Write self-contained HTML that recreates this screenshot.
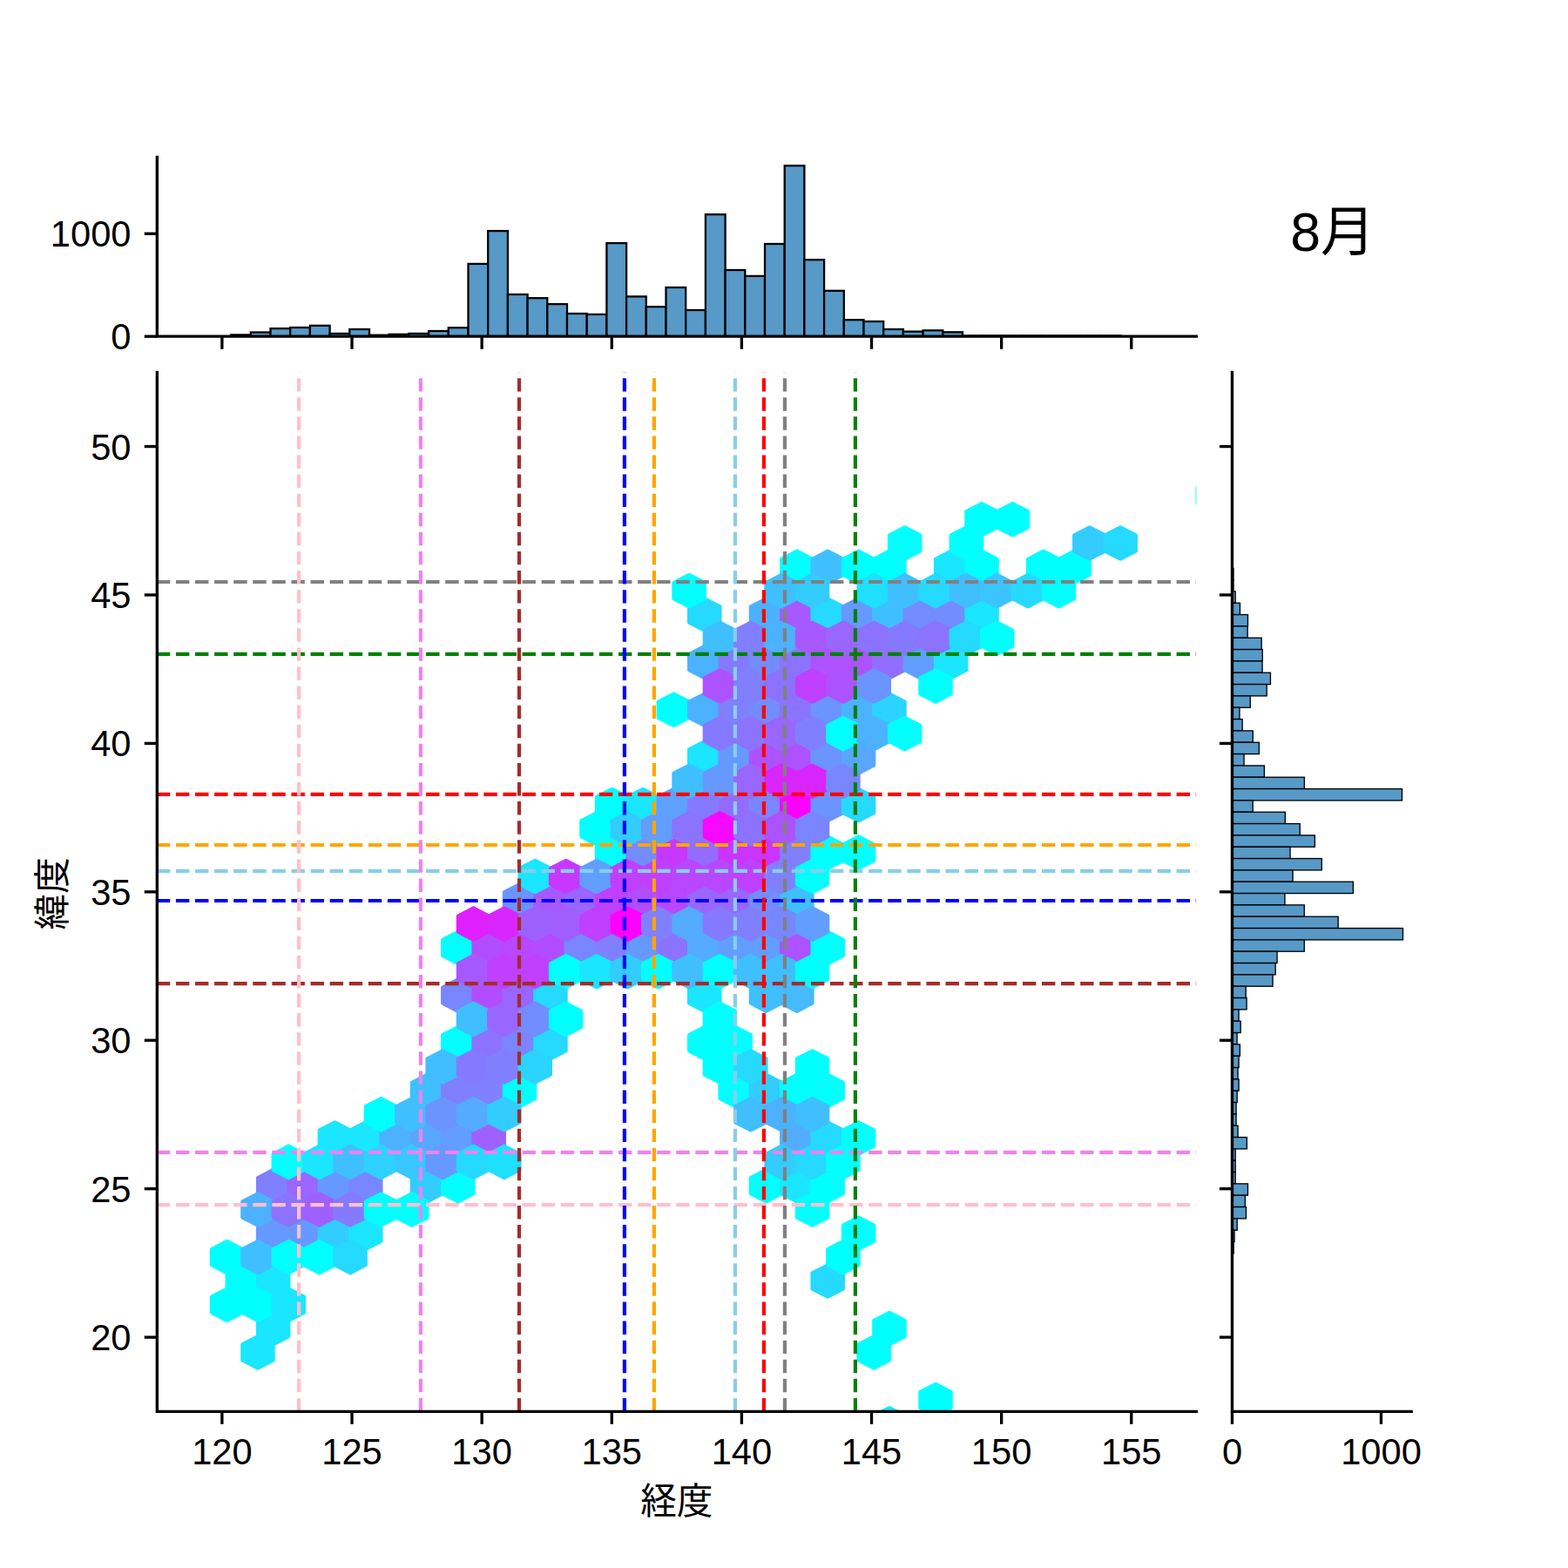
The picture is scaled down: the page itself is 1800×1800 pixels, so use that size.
<!DOCTYPE html>
<html><head><meta charset="utf-8"><title>chart</title><style>html,body{margin:0;padding:0;background:#fff;font-family:"Liberation Sans",sans-serif}svg{display:block}</style></head><body><svg width="1800" height="1800" viewBox="0 0 1800 1800">
<rect width="1800" height="1800" fill="#fff"/>
<defs><clipPath id="cj"><rect x="180.33" y="427.33" width="1193.00" height="1193.00"/></clipPath>
<clipPath id="ct"><rect x="180.33" y="180.50" width="1193.00" height="205.69"/></clipPath>
<clipPath id="cr"><rect x="1414.47" y="427.33" width="205.69" height="1193.00"/></clipPath></defs>
<g clip-path="url(#cj)" stroke-width="4.17" stroke-linejoin="round">
<polygon points="295.97,1479.55 295.97,1461.33 278.29,1452.23 260.61,1461.33 260.61,1479.55 278.29,1488.65" fill="#00ffff" stroke="#00ffff"/>
<polygon points="331.34,1534.19 331.34,1515.97 313.65,1506.87 295.97,1515.97 295.97,1534.19 313.65,1543.29" fill="#1ae6ff" stroke="#1ae6ff"/>
<polygon points="331.34,1479.55 331.34,1461.33 313.65,1452.23 295.97,1461.33 295.97,1479.55 313.65,1488.65" fill="#1ae6ff" stroke="#1ae6ff"/>
<polygon points="331.34,1424.91 331.34,1406.69 313.65,1397.59 295.97,1406.69 295.97,1424.91 313.65,1434.01" fill="#6699ff" stroke="#6699ff"/>
<polygon points="331.34,1370.27 331.34,1352.05 313.65,1342.95 295.97,1352.05 295.97,1370.27 313.65,1379.37" fill="#8080ff" stroke="#8080ff"/>
<polygon points="366.70,1424.91 366.70,1406.69 349.02,1397.59 331.34,1406.69 331.34,1424.91 349.02,1434.01" fill="#6699ff" stroke="#6699ff"/>
<polygon points="366.70,1370.27 366.70,1352.05 349.02,1342.95 331.34,1352.05 331.34,1370.27 349.02,1379.37" fill="#9966ff" stroke="#9966ff"/>
<polygon points="402.07,1424.91 402.07,1406.69 384.38,1397.59 366.70,1406.69 366.70,1424.91 384.38,1434.01" fill="#33ccff" stroke="#33ccff"/>
<polygon points="402.07,1370.27 402.07,1352.05 384.38,1342.95 366.70,1352.05 366.70,1370.27 384.38,1379.37" fill="#6699ff" stroke="#6699ff"/>
<polygon points="402.07,1315.63 402.07,1297.41 384.38,1288.31 366.70,1297.41 366.70,1315.63 384.38,1324.73" fill="#1ae6ff" stroke="#1ae6ff"/>
<polygon points="437.43,1424.91 437.43,1406.69 419.75,1397.59 402.07,1406.69 402.07,1424.91 419.75,1434.01" fill="#1ae6ff" stroke="#1ae6ff"/>
<polygon points="437.43,1370.27 437.43,1352.05 419.75,1342.95 402.07,1352.05 402.07,1370.27 419.75,1379.37" fill="#7887ff" stroke="#7887ff"/>
<polygon points="437.43,1315.63 437.43,1297.41 419.75,1288.31 402.07,1297.41 402.07,1315.63 419.75,1324.73" fill="#1ae6ff" stroke="#1ae6ff"/>
<polygon points="472.80,1315.63 472.80,1297.41 455.11,1288.31 437.43,1297.41 437.43,1315.63 455.11,1324.73" fill="#4cb2ff" stroke="#4cb2ff"/>
<polygon points="508.16,1370.27 508.16,1352.05 490.48,1342.95 472.80,1352.05 472.80,1370.27 490.48,1379.37" fill="#33ccff" stroke="#33ccff"/>
<polygon points="508.16,1315.63 508.16,1297.41 490.48,1288.31 472.80,1297.41 472.80,1315.63 490.48,1324.73" fill="#59a6ff" stroke="#59a6ff"/>
<polygon points="508.16,1260.99 508.16,1242.77 490.48,1233.67 472.80,1242.77 472.80,1260.99 490.48,1270.09" fill="#40bfff" stroke="#40bfff"/>
<polygon points="543.52,1370.27 543.52,1352.05 525.84,1342.95 508.16,1352.05 508.16,1370.27 525.84,1379.37" fill="#00ffff" stroke="#00ffff"/>
<polygon points="543.52,1315.63 543.52,1297.41 525.84,1288.31 508.16,1297.41 508.16,1315.63 525.84,1324.73" fill="#619eff" stroke="#619eff"/>
<polygon points="543.52,1260.99 543.52,1242.77 525.84,1233.67 508.16,1242.77 508.16,1260.99 525.84,1270.09" fill="#8080ff" stroke="#8080ff"/>
<polygon points="543.52,1206.35 543.52,1188.13 525.84,1179.03 508.16,1188.13 508.16,1206.35 525.84,1215.45" fill="#00ffff" stroke="#00ffff"/>
<polygon points="543.52,1151.71 543.52,1133.49 525.84,1124.39 508.16,1133.49 508.16,1151.71 525.84,1160.81" fill="#7887ff" stroke="#7887ff"/>
<polygon points="543.52,1097.07 543.52,1078.85 525.84,1069.75 508.16,1078.85 508.16,1097.07 525.84,1106.17" fill="#00ffff" stroke="#00ffff"/>
<polygon points="578.89,1315.63 578.89,1297.41 561.21,1288.31 543.53,1297.41 543.53,1315.63 561.21,1324.73" fill="#9e61ff" stroke="#9e61ff"/>
<polygon points="578.89,1260.99 578.89,1242.77 561.21,1233.67 543.53,1242.77 543.53,1260.99 561.21,1270.09" fill="#8080ff" stroke="#8080ff"/>
<polygon points="578.89,1206.35 578.89,1188.13 561.21,1179.03 543.53,1188.13 543.53,1206.35 561.21,1215.45" fill="#8c73ff" stroke="#8c73ff"/>
<polygon points="578.89,1151.71 578.89,1133.49 561.21,1124.39 543.53,1133.49 543.53,1151.71 561.21,1160.81" fill="#b24dff" stroke="#b24dff"/>
<polygon points="578.89,1097.07 578.89,1078.85 561.21,1069.75 543.53,1078.85 543.53,1097.07 561.21,1106.17" fill="#b24dff" stroke="#b24dff"/>
<polygon points="614.26,1260.99 614.26,1242.77 596.57,1233.67 578.89,1242.77 578.89,1260.99 596.57,1270.09" fill="#00ffff" stroke="#00ffff"/>
<polygon points="614.26,1206.35 614.26,1188.13 596.57,1179.03 578.89,1188.13 578.89,1206.35 596.57,1215.45" fill="#7a85ff" stroke="#7a85ff"/>
<polygon points="614.26,1151.71 614.26,1133.49 596.57,1124.39 578.89,1133.49 578.89,1151.71 596.57,1160.81" fill="#9966ff" stroke="#9966ff"/>
<polygon points="614.26,1097.07 614.26,1078.85 596.57,1069.75 578.89,1078.85 578.89,1097.07 596.57,1106.17" fill="#b847ff" stroke="#b847ff"/>
<polygon points="614.26,1042.43 614.26,1024.21 596.57,1015.11 578.89,1024.21 578.89,1042.43 596.57,1051.53" fill="#6b94ff" stroke="#6b94ff"/>
<polygon points="649.62,1206.35 649.62,1188.13 631.94,1179.03 614.26,1188.13 614.26,1206.35 631.94,1215.45" fill="#26d9ff" stroke="#26d9ff"/>
<polygon points="649.62,1151.71 649.62,1133.49 631.94,1124.39 614.26,1133.49 614.26,1151.71 631.94,1160.81" fill="#26d9ff" stroke="#26d9ff"/>
<polygon points="649.62,1097.07 649.62,1078.85 631.94,1069.75 614.26,1078.85 614.26,1097.07 631.94,1106.17" fill="#b24dff" stroke="#b24dff"/>
<polygon points="649.62,1042.43 649.62,1024.21 631.94,1015.11 614.26,1024.21 614.26,1042.43 631.94,1051.53" fill="#a659ff" stroke="#a659ff"/>
<polygon points="684.99,1097.07 684.99,1078.85 667.30,1069.75 649.62,1078.85 649.62,1097.07 667.30,1106.17" fill="#7887ff" stroke="#7887ff"/>
<polygon points="684.99,1042.43 684.99,1024.21 667.30,1015.11 649.62,1024.21 649.62,1042.43 667.30,1051.53" fill="#9966ff" stroke="#9966ff"/>
<polygon points="720.35,1097.07 720.35,1078.85 702.67,1069.75 684.99,1078.85 684.99,1097.07 702.67,1106.17" fill="#8080ff" stroke="#8080ff"/>
<polygon points="720.35,1042.43 720.35,1024.21 702.67,1015.11 684.99,1024.21 684.99,1042.43 702.67,1051.53" fill="#bf40ff" stroke="#bf40ff"/>
<polygon points="720.35,987.79 720.35,969.57 702.67,960.47 684.99,969.57 684.99,987.79 702.67,996.89" fill="#00ffff" stroke="#00ffff"/>
<polygon points="720.35,933.15 720.35,914.93 702.67,905.83 684.99,914.93 684.99,933.15 702.67,942.25" fill="#00ffff" stroke="#00ffff"/>
<polygon points="755.72,1097.07 755.72,1078.85 738.03,1069.75 720.35,1078.85 720.35,1097.07 738.03,1106.17" fill="#6699ff" stroke="#6699ff"/>
<polygon points="755.72,1042.43 755.72,1024.21 738.03,1015.11 720.35,1024.21 720.35,1042.43 738.03,1051.53" fill="#b24dff" stroke="#b24dff"/>
<polygon points="755.72,987.79 755.72,969.57 738.03,960.47 720.35,969.57 720.35,987.79 738.03,996.89" fill="#738cff" stroke="#738cff"/>
<polygon points="755.72,933.15 755.72,914.93 738.03,905.83 720.35,914.93 720.35,933.15 738.03,942.25" fill="#1ae6ff" stroke="#1ae6ff"/>
<polygon points="791.08,1097.07 791.08,1078.85 773.40,1069.75 755.72,1078.85 755.72,1097.07 773.40,1106.17" fill="#8c73ff" stroke="#8c73ff"/>
<polygon points="791.08,1042.43 791.08,1024.21 773.40,1015.11 755.72,1024.21 755.72,1042.43 773.40,1051.53" fill="#b847ff" stroke="#b847ff"/>
<polygon points="791.08,987.79 791.08,969.57 773.40,960.47 755.72,969.57 755.72,987.79 773.40,996.89" fill="#c738ff" stroke="#c738ff"/>
<polygon points="791.08,933.15 791.08,914.93 773.40,905.83 755.72,914.93 755.72,933.15 773.40,942.25" fill="#5ea1ff" stroke="#5ea1ff"/>
<polygon points="791.08,823.87 791.08,805.65 773.40,796.55 755.72,805.65 755.72,823.87 773.40,832.97" fill="#00ffff" stroke="#00ffff"/>
<polygon points="826.45,1206.35 826.45,1188.13 808.76,1179.03 791.08,1188.13 791.08,1206.35 808.76,1215.45" fill="#00ffff" stroke="#00ffff"/>
<polygon points="826.45,1151.71 826.45,1133.49 808.76,1124.39 791.08,1133.49 791.08,1151.71 808.76,1160.81" fill="#1ae6ff" stroke="#1ae6ff"/>
<polygon points="826.45,1097.07 826.45,1078.85 808.76,1069.75 791.08,1078.85 791.08,1097.07 808.76,1106.17" fill="#54abff" stroke="#54abff"/>
<polygon points="826.45,1042.43 826.45,1024.21 808.76,1015.11 791.08,1024.21 791.08,1042.43 808.76,1051.53" fill="#9966ff" stroke="#9966ff"/>
<polygon points="826.45,987.79 826.45,969.57 808.76,960.47 791.08,969.57 791.08,987.79 808.76,996.89" fill="#946bff" stroke="#946bff"/>
<polygon points="826.45,933.15 826.45,914.93 808.76,905.83 791.08,914.93 791.08,933.15 808.76,942.25" fill="#857aff" stroke="#857aff"/>
<polygon points="826.45,878.51 826.45,860.29 808.76,851.19 791.08,860.29 791.08,878.51 808.76,887.61" fill="#1ae6ff" stroke="#1ae6ff"/>
<polygon points="826.45,823.87 826.45,805.65 808.76,796.55 791.08,805.65 791.08,823.87 808.76,832.97" fill="#4cb2ff" stroke="#4cb2ff"/>
<polygon points="826.45,769.23 826.45,751.01 808.76,741.91 791.08,751.01 791.08,769.23 808.76,778.33" fill="#4cb2ff" stroke="#4cb2ff"/>
<polygon points="826.45,714.59 826.45,696.37 808.76,687.27 791.08,696.37 791.08,714.59 808.76,723.69" fill="#26d9ff" stroke="#26d9ff"/>
<polygon points="861.81,1260.99 861.81,1242.77 844.13,1233.67 826.45,1242.77 826.45,1260.99 844.13,1270.09" fill="#00ffff" stroke="#00ffff"/>
<polygon points="861.81,1206.35 861.81,1188.13 844.13,1179.03 826.45,1188.13 826.45,1206.35 844.13,1215.45" fill="#00ffff" stroke="#00ffff"/>
<polygon points="861.81,1097.07 861.81,1078.85 844.13,1069.75 826.45,1078.85 826.45,1097.07 844.13,1106.17" fill="#619eff" stroke="#619eff"/>
<polygon points="861.81,1042.43 861.81,1024.21 844.13,1015.11 826.45,1024.21 826.45,1042.43 844.13,1051.53" fill="#9966ff" stroke="#9966ff"/>
<polygon points="861.81,987.79 861.81,969.57 844.13,960.47 826.45,969.57 826.45,987.79 844.13,996.89" fill="#cc33ff" stroke="#cc33ff"/>
<polygon points="861.81,933.15 861.81,914.93 844.13,905.83 826.45,914.93 826.45,933.15 844.13,942.25" fill="#946bff" stroke="#946bff"/>
<polygon points="861.81,878.51 861.81,860.29 844.13,851.19 826.45,860.29 826.45,878.51 844.13,887.61" fill="#6699ff" stroke="#6699ff"/>
<polygon points="861.81,823.87 861.81,805.65 844.13,796.55 826.45,805.65 826.45,823.87 844.13,832.97" fill="#8080ff" stroke="#8080ff"/>
<polygon points="861.81,769.23 861.81,751.01 844.13,741.91 826.45,751.01 826.45,769.23 844.13,778.33" fill="#857aff" stroke="#857aff"/>
<polygon points="897.18,1370.27 897.18,1352.05 879.49,1342.95 861.81,1352.05 861.81,1370.27 879.49,1379.37" fill="#00ffff" stroke="#00ffff"/>
<polygon points="897.18,1260.99 897.18,1242.77 879.49,1233.67 861.81,1242.77 861.81,1260.99 879.49,1270.09" fill="#33ccff" stroke="#33ccff"/>
<polygon points="897.18,1151.71 897.18,1133.49 879.49,1124.39 861.81,1133.49 861.81,1151.71 879.49,1160.81" fill="#40bfff" stroke="#40bfff"/>
<polygon points="897.18,1097.07 897.18,1078.85 879.49,1069.75 861.81,1078.85 861.81,1097.07 879.49,1106.17" fill="#619eff" stroke="#619eff"/>
<polygon points="897.18,1042.43 897.18,1024.21 879.49,1015.11 861.81,1024.21 861.81,1042.43 879.49,1051.53" fill="#738cff" stroke="#738cff"/>
<polygon points="897.18,987.79 897.18,969.57 879.49,960.47 861.81,969.57 861.81,987.79 879.49,996.89" fill="#cc33ff" stroke="#cc33ff"/>
<polygon points="897.18,933.15 897.18,914.93 879.49,905.83 861.81,914.93 861.81,933.15 879.49,942.25" fill="#7a85ff" stroke="#7a85ff"/>
<polygon points="897.18,878.51 897.18,860.29 879.49,851.19 861.81,860.29 861.81,878.51 879.49,887.61" fill="#ad52ff" stroke="#ad52ff"/>
<polygon points="897.18,823.87 897.18,805.65 879.49,796.55 861.81,805.65 861.81,823.87 879.49,832.97" fill="#738cff" stroke="#738cff"/>
<polygon points="897.18,769.23 897.18,751.01 879.49,741.91 861.81,751.01 861.81,769.23 879.49,778.33" fill="#738cff" stroke="#738cff"/>
<polygon points="897.18,714.59 897.18,696.37 879.49,687.27 861.81,696.37 861.81,714.59 879.49,723.69" fill="#4cb2ff" stroke="#4cb2ff"/>
<polygon points="932.54,1370.27 932.54,1352.05 914.86,1342.95 897.18,1352.05 897.18,1370.27 914.86,1379.37" fill="#1ae6ff" stroke="#1ae6ff"/>
<polygon points="932.54,1315.63 932.54,1297.41 914.86,1288.31 897.18,1297.41 897.18,1315.63 914.86,1324.73" fill="#52adff" stroke="#52adff"/>
<polygon points="932.54,1260.99 932.54,1242.77 914.86,1233.67 897.18,1242.77 897.18,1260.99 914.86,1270.09" fill="#00ffff" stroke="#00ffff"/>
<polygon points="932.54,1151.71 932.54,1133.49 914.86,1124.39 897.18,1133.49 897.18,1151.71 914.86,1160.81" fill="#45baff" stroke="#45baff"/>
<polygon points="932.54,1097.07 932.54,1078.85 914.86,1069.75 897.18,1078.85 897.18,1097.07 914.86,1106.17" fill="#ad52ff" stroke="#ad52ff"/>
<polygon points="932.54,1042.43 932.54,1024.21 914.86,1015.11 897.18,1024.21 897.18,1042.43 914.86,1051.53" fill="#40bfff" stroke="#40bfff"/>
<polygon points="932.54,987.79 932.54,969.57 914.86,960.47 897.18,969.57 897.18,987.79 914.86,996.89" fill="#8080ff" stroke="#8080ff"/>
<polygon points="932.54,933.15 932.54,914.93 914.86,905.83 897.18,914.93 897.18,933.15 914.86,942.25" fill="#ff00ff" stroke="#ff00ff"/>
<polygon points="932.54,878.51 932.54,860.29 914.86,851.19 897.18,860.29 897.18,878.51 914.86,887.61" fill="#ad52ff" stroke="#ad52ff"/>
<polygon points="932.54,823.87 932.54,805.65 914.86,796.55 897.18,805.65 897.18,823.87 914.86,832.97" fill="#8c73ff" stroke="#8c73ff"/>
<polygon points="932.54,769.23 932.54,751.01 914.86,741.91 897.18,751.01 897.18,769.23 914.86,778.33" fill="#8c73ff" stroke="#8c73ff"/>
<polygon points="932.54,714.59 932.54,696.37 914.86,687.27 897.18,696.37 897.18,714.59 914.86,723.69" fill="#a659ff" stroke="#a659ff"/>
<polygon points="932.54,659.95 932.54,641.73 914.86,632.63 897.18,641.73 897.18,659.95 914.86,669.05" fill="#00ffff" stroke="#00ffff"/>
<polygon points="967.91,1479.55 967.91,1461.33 950.22,1452.23 932.54,1461.33 932.54,1479.55 950.22,1488.65" fill="#26d9ff" stroke="#26d9ff"/>
<polygon points="967.91,1370.27 967.91,1352.05 950.22,1342.95 932.54,1352.05 932.54,1370.27 950.22,1379.37" fill="#00ffff" stroke="#00ffff"/>
<polygon points="967.91,1315.63 967.91,1297.41 950.22,1288.31 932.54,1297.41 932.54,1315.63 950.22,1324.73" fill="#26d9ff" stroke="#26d9ff"/>
<polygon points="967.91,1260.99 967.91,1242.77 950.22,1233.67 932.54,1242.77 932.54,1260.99 950.22,1270.09" fill="#00ffff" stroke="#00ffff"/>
<polygon points="967.91,1097.07 967.91,1078.85 950.22,1069.75 932.54,1078.85 932.54,1097.07 950.22,1106.17" fill="#00ffff" stroke="#00ffff"/>
<polygon points="967.91,987.79 967.91,969.57 950.22,960.47 932.54,969.57 932.54,987.79 950.22,996.89" fill="#00ffff" stroke="#00ffff"/>
<polygon points="967.91,933.15 967.91,914.93 950.22,905.83 932.54,914.93 932.54,933.15 950.22,942.25" fill="#6b94ff" stroke="#6b94ff"/>
<polygon points="967.91,878.51 967.91,860.29 950.22,851.19 932.54,860.29 932.54,878.51 950.22,887.61" fill="#6b94ff" stroke="#6b94ff"/>
<polygon points="967.91,823.87 967.91,805.65 950.22,796.55 932.54,805.65 932.54,823.87 950.22,832.97" fill="#6b94ff" stroke="#6b94ff"/>
<polygon points="967.91,769.23 967.91,751.01 950.22,741.91 932.54,751.01 932.54,769.23 950.22,778.33" fill="#ad52ff" stroke="#ad52ff"/>
<polygon points="967.91,714.59 967.91,696.37 950.22,687.27 932.54,696.37 932.54,714.59 950.22,723.69" fill="#26d9ff" stroke="#26d9ff"/>
<polygon points="967.91,659.95 967.91,641.73 950.22,632.63 932.54,641.73 932.54,659.95 950.22,669.05" fill="#40bfff" stroke="#40bfff"/>
<polygon points="1003.27,1424.91 1003.27,1406.69 985.59,1397.59 967.91,1406.69 967.91,1424.91 985.59,1434.01" fill="#00ffff" stroke="#00ffff"/>
<polygon points="1003.27,1315.63 1003.27,1297.41 985.59,1288.31 967.91,1297.41 967.91,1315.63 985.59,1324.73" fill="#00ffff" stroke="#00ffff"/>
<polygon points="1003.27,987.79 1003.27,969.57 985.59,960.47 967.91,969.57 967.91,987.79 985.59,996.89" fill="#00ffff" stroke="#00ffff"/>
<polygon points="1003.27,933.15 1003.27,914.93 985.59,905.83 967.91,914.93 967.91,933.15 985.59,942.25" fill="#26d9ff" stroke="#26d9ff"/>
<polygon points="1003.27,878.51 1003.27,860.29 985.59,851.19 967.91,860.29 967.91,878.51 985.59,887.61" fill="#59a6ff" stroke="#59a6ff"/>
<polygon points="1003.27,823.87 1003.27,805.65 985.59,796.55 967.91,805.65 967.91,823.87 985.59,832.97" fill="#4cb2ff" stroke="#4cb2ff"/>
<polygon points="1003.27,769.23 1003.27,751.01 985.59,741.91 967.91,751.01 967.91,769.23 985.59,778.33" fill="#ad52ff" stroke="#ad52ff"/>
<polygon points="1003.27,714.59 1003.27,696.37 985.59,687.27 967.91,696.37 967.91,714.59 985.59,723.69" fill="#6699ff" stroke="#6699ff"/>
<polygon points="1003.27,659.95 1003.27,641.73 985.59,632.63 967.91,641.73 967.91,659.95 985.59,669.05" fill="#00ffff" stroke="#00ffff"/>
<polygon points="1038.63,1643.47 1038.63,1625.25 1020.95,1616.15 1003.27,1625.25 1003.27,1643.47 1020.95,1652.57" fill="#1ae6ff" stroke="#1ae6ff"/>
<polygon points="1038.63,1534.19 1038.63,1515.97 1020.95,1506.87 1003.27,1515.97 1003.27,1534.19 1020.95,1543.29" fill="#00ffff" stroke="#00ffff"/>
<polygon points="1038.63,823.87 1038.63,805.65 1020.95,796.55 1003.27,805.65 1003.27,823.87 1020.95,832.97" fill="#2bd4ff" stroke="#2bd4ff"/>
<polygon points="1038.63,769.23 1038.63,751.01 1020.95,741.91 1003.27,751.01 1003.27,769.23 1020.95,778.33" fill="#916eff" stroke="#916eff"/>
<polygon points="1038.63,714.59 1038.63,696.37 1020.95,687.27 1003.27,696.37 1003.27,714.59 1020.95,723.69" fill="#40bfff" stroke="#40bfff"/>
<polygon points="1038.63,659.95 1038.63,641.73 1020.95,632.63 1003.27,641.73 1003.27,659.95 1020.95,669.05" fill="#00ffff" stroke="#00ffff"/>
<polygon points="1074.00,769.23 1074.00,751.01 1056.32,741.91 1038.64,751.01 1038.64,769.23 1056.32,778.33" fill="#619eff" stroke="#619eff"/>
<polygon points="1074.00,714.59 1074.00,696.37 1056.32,687.27 1038.64,696.37 1038.64,714.59 1056.32,723.69" fill="#738cff" stroke="#738cff"/>
<polygon points="1109.36,769.23 1109.36,751.01 1091.68,741.91 1074.00,751.01 1074.00,769.23 1091.68,778.33" fill="#1ae6ff" stroke="#1ae6ff"/>
<polygon points="1109.36,714.59 1109.36,696.37 1091.68,687.27 1074.00,696.37 1074.00,714.59 1091.68,723.69" fill="#738cff" stroke="#738cff"/>
<polygon points="1109.36,659.95 1109.36,641.73 1091.68,632.63 1074.00,641.73 1074.00,659.95 1091.68,669.05" fill="#1ae6ff" stroke="#1ae6ff"/>
<polygon points="1144.73,714.59 1144.73,696.37 1127.05,687.27 1109.37,696.37 1109.37,714.59 1127.05,723.69" fill="#1ae6ff" stroke="#1ae6ff"/>
<polygon points="1144.73,659.95 1144.73,641.73 1127.05,632.63 1109.37,641.73 1109.37,659.95 1127.05,669.05" fill="#00ffff" stroke="#00ffff"/>
<polygon points="1144.73,605.31 1144.73,587.09 1127.05,577.99 1109.37,587.09 1109.37,605.31 1127.05,614.41" fill="#00ffff" stroke="#00ffff"/>
<polygon points="1180.09,605.31 1180.09,587.09 1162.41,577.99 1144.73,587.09 1144.73,605.31 1162.41,614.41" fill="#00ffff" stroke="#00ffff"/>
<polygon points="1215.46,659.95 1215.46,641.73 1197.78,632.63 1180.10,641.73 1180.10,659.95 1197.78,669.05" fill="#00ffff" stroke="#00ffff"/>
<polygon points="1250.82,659.95 1250.82,641.73 1233.14,632.63 1215.46,641.73 1215.46,659.95 1233.14,669.05" fill="#00ffff" stroke="#00ffff"/>
<polygon points="278.29,1506.87 278.29,1488.65 260.61,1479.55 242.92,1488.65 242.92,1506.87 260.61,1515.97" fill="#00ffff" stroke="#00ffff"/>
<polygon points="278.29,1452.23 278.29,1434.01 260.61,1424.91 242.92,1434.01 242.92,1452.23 260.61,1461.33" fill="#00ffff" stroke="#00ffff"/>
<polygon points="313.65,1561.51 313.65,1543.29 295.97,1534.19 278.29,1543.29 278.29,1561.51 295.97,1570.61" fill="#1ae6ff" stroke="#1ae6ff"/>
<polygon points="313.65,1506.87 313.65,1488.65 295.97,1479.55 278.29,1488.65 278.29,1506.87 295.97,1515.97" fill="#00ffff" stroke="#00ffff"/>
<polygon points="313.65,1452.23 313.65,1434.01 295.97,1424.91 278.29,1434.01 278.29,1452.23 295.97,1461.33" fill="#40bfff" stroke="#40bfff"/>
<polygon points="313.65,1397.59 313.65,1379.37 295.97,1370.27 278.29,1379.37 278.29,1397.59 295.97,1406.69" fill="#4cb2ff" stroke="#4cb2ff"/>
<polygon points="349.02,1506.87 349.02,1488.65 331.34,1479.55 313.65,1488.65 313.65,1506.87 331.34,1515.97" fill="#1ae6ff" stroke="#1ae6ff"/>
<polygon points="349.02,1452.23 349.02,1434.01 331.34,1424.91 313.65,1434.01 313.65,1452.23 331.34,1461.33" fill="#00ffff" stroke="#00ffff"/>
<polygon points="349.02,1397.59 349.02,1379.37 331.34,1370.27 313.65,1379.37 313.65,1397.59 331.34,1406.69" fill="#8c73ff" stroke="#8c73ff"/>
<polygon points="349.02,1342.95 349.02,1324.73 331.34,1315.63 313.65,1324.73 313.65,1342.95 331.34,1352.05" fill="#00ffff" stroke="#00ffff"/>
<polygon points="384.38,1452.23 384.38,1434.01 366.70,1424.91 349.02,1434.01 349.02,1452.23 366.70,1461.33" fill="#00ffff" stroke="#00ffff"/>
<polygon points="384.38,1397.59 384.38,1379.37 366.70,1370.27 349.02,1379.37 349.02,1397.59 366.70,1406.69" fill="#9e61ff" stroke="#9e61ff"/>
<polygon points="384.38,1342.95 384.38,1324.73 366.70,1315.63 349.02,1324.73 349.02,1342.95 366.70,1352.05" fill="#1ae6ff" stroke="#1ae6ff"/>
<polygon points="419.75,1452.23 419.75,1434.01 402.07,1424.91 384.38,1434.01 384.38,1452.23 402.07,1461.33" fill="#26d9ff" stroke="#26d9ff"/>
<polygon points="419.75,1397.59 419.75,1379.37 402.07,1370.27 384.38,1379.37 384.38,1397.59 402.07,1406.69" fill="#857aff" stroke="#857aff"/>
<polygon points="419.75,1342.95 419.75,1324.73 402.07,1315.63 384.38,1324.73 384.38,1342.95 402.07,1352.05" fill="#40bfff" stroke="#40bfff"/>
<polygon points="455.11,1397.59 455.11,1379.37 437.43,1370.27 419.75,1379.37 419.75,1397.59 437.43,1406.69" fill="#00ffff" stroke="#00ffff"/>
<polygon points="455.11,1342.95 455.11,1324.73 437.43,1315.63 419.75,1324.73 419.75,1342.95 437.43,1352.05" fill="#2ed1ff" stroke="#2ed1ff"/>
<polygon points="455.11,1288.31 455.11,1270.09 437.43,1260.99 419.75,1270.09 419.75,1288.31 437.43,1297.41" fill="#00ffff" stroke="#00ffff"/>
<polygon points="490.48,1397.59 490.48,1379.37 472.80,1370.27 455.11,1379.37 455.11,1397.59 472.80,1406.69" fill="#00ffff" stroke="#00ffff"/>
<polygon points="490.48,1342.95 490.48,1324.73 472.80,1315.63 455.11,1324.73 455.11,1342.95 472.80,1352.05" fill="#38c7ff" stroke="#38c7ff"/>
<polygon points="490.48,1288.31 490.48,1270.09 472.80,1260.99 455.11,1270.09 455.11,1288.31 472.80,1297.41" fill="#40bfff" stroke="#40bfff"/>
<polygon points="525.84,1342.95 525.84,1324.73 508.16,1315.63 490.48,1324.73 490.48,1342.95 508.16,1352.05" fill="#6699ff" stroke="#6699ff"/>
<polygon points="525.84,1288.31 525.84,1270.09 508.16,1260.99 490.48,1270.09 490.48,1288.31 508.16,1297.41" fill="#6b94ff" stroke="#6b94ff"/>
<polygon points="525.84,1233.67 525.84,1215.45 508.16,1206.35 490.48,1215.45 490.48,1233.67 508.16,1242.77" fill="#40bfff" stroke="#40bfff"/>
<polygon points="561.21,1342.95 561.21,1324.73 543.53,1315.63 525.84,1324.73 525.84,1342.95 543.53,1352.05" fill="#26d9ff" stroke="#26d9ff"/>
<polygon points="561.21,1288.31 561.21,1270.09 543.53,1260.99 525.84,1270.09 525.84,1288.31 543.53,1297.41" fill="#54abff" stroke="#54abff"/>
<polygon points="561.21,1233.67 561.21,1215.45 543.53,1206.35 525.84,1215.45 525.84,1233.67 543.53,1242.77" fill="#857aff" stroke="#857aff"/>
<polygon points="561.21,1179.03 561.21,1160.81 543.53,1151.71 525.84,1160.81 525.84,1179.03 543.53,1188.13" fill="#40bfff" stroke="#40bfff"/>
<polygon points="561.21,1124.39 561.21,1106.17 543.53,1097.07 525.84,1106.17 525.84,1124.39 543.53,1133.49" fill="#a659ff" stroke="#a659ff"/>
<polygon points="561.21,1069.75 561.21,1051.53 543.53,1042.43 525.84,1051.53 525.84,1069.75 543.53,1078.85" fill="#e01fff" stroke="#e01fff"/>
<polygon points="596.57,1342.95 596.57,1324.73 578.89,1315.63 561.21,1324.73 561.21,1342.95 578.89,1352.05" fill="#1fe0ff" stroke="#1fe0ff"/>
<polygon points="596.57,1288.31 596.57,1270.09 578.89,1260.99 561.21,1270.09 561.21,1288.31 578.89,1297.41" fill="#33ccff" stroke="#33ccff"/>
<polygon points="596.57,1233.67 596.57,1215.45 578.89,1206.35 561.21,1215.45 561.21,1233.67 578.89,1242.77" fill="#8080ff" stroke="#8080ff"/>
<polygon points="596.57,1179.03 596.57,1160.81 578.89,1151.71 561.21,1160.81 561.21,1179.03 578.89,1188.13" fill="#9966ff" stroke="#9966ff"/>
<polygon points="596.57,1124.39 596.57,1106.17 578.89,1097.07 561.21,1106.17 561.21,1124.39 578.89,1133.49" fill="#bf40ff" stroke="#bf40ff"/>
<polygon points="596.57,1069.75 596.57,1051.53 578.89,1042.43 561.21,1051.53 561.21,1069.75 578.89,1078.85" fill="#d926ff" stroke="#d926ff"/>
<polygon points="631.94,1233.67 631.94,1215.45 614.26,1206.35 596.57,1215.45 596.57,1233.67 614.26,1242.77" fill="#2bd4ff" stroke="#2bd4ff"/>
<polygon points="631.94,1179.03 631.94,1160.81 614.26,1151.71 596.57,1160.81 596.57,1179.03 614.26,1188.13" fill="#738cff" stroke="#738cff"/>
<polygon points="631.94,1124.39 631.94,1106.17 614.26,1097.07 596.57,1106.17 596.57,1124.39 614.26,1133.49" fill="#bf40ff" stroke="#bf40ff"/>
<polygon points="631.94,1069.75 631.94,1051.53 614.26,1042.43 596.57,1051.53 596.57,1069.75 614.26,1078.85" fill="#9e61ff" stroke="#9e61ff"/>
<polygon points="631.94,1015.11 631.94,996.89 614.26,987.79 596.57,996.89 596.57,1015.11 614.26,1024.21" fill="#1ae6ff" stroke="#1ae6ff"/>
<polygon points="667.30,1179.03 667.30,1160.81 649.62,1151.71 631.94,1160.81 631.94,1179.03 649.62,1188.13" fill="#00ffff" stroke="#00ffff"/>
<polygon points="667.30,1124.39 667.30,1106.17 649.62,1097.07 631.94,1106.17 631.94,1124.39 649.62,1133.49" fill="#00ffff" stroke="#00ffff"/>
<polygon points="667.30,1069.75 667.30,1051.53 649.62,1042.43 631.94,1051.53 631.94,1069.75 649.62,1078.85" fill="#a15eff" stroke="#a15eff"/>
<polygon points="667.30,1015.11 667.30,996.89 649.62,987.79 631.94,996.89 631.94,1015.11 649.62,1024.21" fill="#c738ff" stroke="#c738ff"/>
<polygon points="702.67,1124.39 702.67,1106.17 684.99,1097.07 667.30,1106.17 667.30,1124.39 684.99,1133.49" fill="#1ae6ff" stroke="#1ae6ff"/>
<polygon points="702.67,1069.75 702.67,1051.53 684.99,1042.43 667.30,1051.53 667.30,1069.75 684.99,1078.85" fill="#bf40ff" stroke="#bf40ff"/>
<polygon points="702.67,1015.11 702.67,996.89 684.99,987.79 667.30,996.89 667.30,1015.11 684.99,1024.21" fill="#619eff" stroke="#619eff"/>
<polygon points="702.67,960.47 702.67,942.25 684.99,933.15 667.30,942.25 667.30,960.47 684.99,969.57" fill="#00ffff" stroke="#00ffff"/>
<polygon points="738.03,1124.39 738.03,1106.17 720.35,1097.07 702.67,1106.17 702.67,1124.39 720.35,1133.49" fill="#33ccff" stroke="#33ccff"/>
<polygon points="738.03,1069.75 738.03,1051.53 720.35,1042.43 702.67,1051.53 702.67,1069.75 720.35,1078.85" fill="#ff00ff" stroke="#ff00ff"/>
<polygon points="738.03,1015.11 738.03,996.89 720.35,987.79 702.67,996.89 702.67,1015.11 720.35,1024.21" fill="#bf40ff" stroke="#bf40ff"/>
<polygon points="738.03,960.47 738.03,942.25 720.35,933.15 702.67,942.25 702.67,960.47 720.35,969.57" fill="#33ccff" stroke="#33ccff"/>
<polygon points="773.40,1124.39 773.40,1106.17 755.72,1097.07 738.03,1106.17 738.03,1124.39 755.72,1133.49" fill="#00ffff" stroke="#00ffff"/>
<polygon points="773.40,1069.75 773.40,1051.53 755.72,1042.43 738.03,1051.53 738.03,1069.75 755.72,1078.85" fill="#8080ff" stroke="#8080ff"/>
<polygon points="773.40,1015.11 773.40,996.89 755.72,987.79 738.03,996.89 738.03,1015.11 755.72,1024.21" fill="#bf40ff" stroke="#bf40ff"/>
<polygon points="773.40,960.47 773.40,942.25 755.72,933.15 738.03,942.25 738.03,960.47 755.72,969.57" fill="#619eff" stroke="#619eff"/>
<polygon points="808.76,1124.39 808.76,1106.17 791.08,1097.07 773.40,1106.17 773.40,1124.39 791.08,1133.49" fill="#40bfff" stroke="#40bfff"/>
<polygon points="808.76,1069.75 808.76,1051.53 791.08,1042.43 773.40,1051.53 773.40,1069.75 791.08,1078.85" fill="#54abff" stroke="#54abff"/>
<polygon points="808.76,1015.11 808.76,996.89 791.08,987.79 773.40,996.89 773.40,1015.11 791.08,1024.21" fill="#b847ff" stroke="#b847ff"/>
<polygon points="808.76,960.47 808.76,942.25 791.08,933.15 773.40,942.25 773.40,960.47 791.08,969.57" fill="#8c73ff" stroke="#8c73ff"/>
<polygon points="808.76,905.83 808.76,887.61 791.08,878.51 773.40,887.61 773.40,905.83 791.08,914.93" fill="#40bfff" stroke="#40bfff"/>
<polygon points="808.76,687.27 808.76,669.05 791.08,659.95 773.40,669.05 773.40,687.27 791.08,696.37" fill="#00ffff" stroke="#00ffff"/>
<polygon points="844.13,1233.67 844.13,1215.45 826.45,1206.35 808.76,1215.45 808.76,1233.67 826.45,1242.77" fill="#00ffff" stroke="#00ffff"/>
<polygon points="844.13,1179.03 844.13,1160.81 826.45,1151.71 808.76,1160.81 808.76,1179.03 826.45,1188.13" fill="#00ffff" stroke="#00ffff"/>
<polygon points="844.13,1124.39 844.13,1106.17 826.45,1097.07 808.76,1106.17 808.76,1124.39 826.45,1133.49" fill="#00ffff" stroke="#00ffff"/>
<polygon points="844.13,1069.75 844.13,1051.53 826.45,1042.43 808.76,1051.53 808.76,1069.75 826.45,1078.85" fill="#857aff" stroke="#857aff"/>
<polygon points="844.13,1015.11 844.13,996.89 826.45,987.79 808.76,996.89 808.76,1015.11 826.45,1024.21" fill="#b847ff" stroke="#b847ff"/>
<polygon points="844.13,960.47 844.13,942.25 826.45,933.15 808.76,942.25 808.76,960.47 826.45,969.57" fill="#f708ff" stroke="#f708ff"/>
<polygon points="844.13,905.83 844.13,887.61 826.45,878.51 808.76,887.61 808.76,905.83 826.45,914.93" fill="#6699ff" stroke="#6699ff"/>
<polygon points="844.13,851.19 844.13,832.97 826.45,823.87 808.76,832.97 808.76,851.19 826.45,860.29" fill="#857aff" stroke="#857aff"/>
<polygon points="844.13,796.55 844.13,778.33 826.45,769.23 808.76,778.33 808.76,796.55 826.45,805.65" fill="#ad52ff" stroke="#ad52ff"/>
<polygon points="844.13,741.91 844.13,723.69 826.45,714.59 808.76,723.69 808.76,741.91 826.45,751.01" fill="#40bfff" stroke="#40bfff"/>
<polygon points="879.49,1288.31 879.49,1270.09 861.81,1260.99 844.13,1270.09 844.13,1288.31 861.81,1297.41" fill="#40bfff" stroke="#40bfff"/>
<polygon points="879.49,1233.67 879.49,1215.45 861.81,1206.35 844.13,1215.45 844.13,1233.67 861.81,1242.77" fill="#26d9ff" stroke="#26d9ff"/>
<polygon points="879.49,1124.39 879.49,1106.17 861.81,1097.07 844.13,1106.17 844.13,1124.39 861.81,1133.49" fill="#40bfff" stroke="#40bfff"/>
<polygon points="879.49,1069.75 879.49,1051.53 861.81,1042.43 844.13,1051.53 844.13,1069.75 861.81,1078.85" fill="#8080ff" stroke="#8080ff"/>
<polygon points="879.49,1015.11 879.49,996.89 861.81,987.79 844.13,996.89 844.13,1015.11 861.81,1024.21" fill="#bf40ff" stroke="#bf40ff"/>
<polygon points="879.49,960.47 879.49,942.25 861.81,933.15 844.13,942.25 844.13,960.47 861.81,969.57" fill="#8c73ff" stroke="#8c73ff"/>
<polygon points="879.49,905.83 879.49,887.61 861.81,878.51 844.13,887.61 844.13,905.83 861.81,914.93" fill="#9966ff" stroke="#9966ff"/>
<polygon points="879.49,851.19 879.49,832.97 861.81,823.87 844.13,832.97 844.13,851.19 861.81,860.29" fill="#8c73ff" stroke="#8c73ff"/>
<polygon points="879.49,796.55 879.49,778.33 861.81,769.23 844.13,778.33 844.13,796.55 861.81,805.65" fill="#8080ff" stroke="#8080ff"/>
<polygon points="879.49,741.91 879.49,723.69 861.81,714.59 844.13,723.69 844.13,741.91 861.81,751.01" fill="#8080ff" stroke="#8080ff"/>
<polygon points="914.86,1342.95 914.86,1324.73 897.18,1315.63 879.49,1324.73 879.49,1342.95 897.18,1352.05" fill="#33ccff" stroke="#33ccff"/>
<polygon points="914.86,1288.31 914.86,1270.09 897.18,1260.99 879.49,1270.09 879.49,1288.31 897.18,1297.41" fill="#4cb2ff" stroke="#4cb2ff"/>
<polygon points="914.86,1124.39 914.86,1106.17 897.18,1097.07 879.49,1106.17 879.49,1124.39 897.18,1133.49" fill="#40bfff" stroke="#40bfff"/>
<polygon points="914.86,1069.75 914.86,1051.53 897.18,1042.43 879.49,1051.53 879.49,1069.75 897.18,1078.85" fill="#7887ff" stroke="#7887ff"/>
<polygon points="914.86,1015.11 914.86,996.89 897.18,987.79 879.49,996.89 879.49,1015.11 897.18,1024.21" fill="#8080ff" stroke="#8080ff"/>
<polygon points="914.86,960.47 914.86,942.25 897.18,933.15 879.49,942.25 879.49,960.47 897.18,969.57" fill="#ad52ff" stroke="#ad52ff"/>
<polygon points="914.86,905.83 914.86,887.61 897.18,878.51 879.49,887.61 879.49,905.83 897.18,914.93" fill="#d926ff" stroke="#d926ff"/>
<polygon points="914.86,851.19 914.86,832.97 897.18,823.87 879.49,832.97 879.49,851.19 897.18,860.29" fill="#9966ff" stroke="#9966ff"/>
<polygon points="914.86,796.55 914.86,778.33 897.18,769.23 879.49,778.33 879.49,796.55 897.18,805.65" fill="#8c73ff" stroke="#8c73ff"/>
<polygon points="914.86,741.91 914.86,723.69 897.18,714.59 879.49,723.69 879.49,741.91 897.18,751.01" fill="#4cb2ff" stroke="#4cb2ff"/>
<polygon points="914.86,687.27 914.86,669.05 897.18,659.95 879.49,669.05 879.49,687.27 897.18,696.37" fill="#40bfff" stroke="#40bfff"/>
<polygon points="950.22,1397.59 950.22,1379.37 932.54,1370.27 914.86,1379.37 914.86,1397.59 932.54,1406.69" fill="#00ffff" stroke="#00ffff"/>
<polygon points="950.22,1342.95 950.22,1324.73 932.54,1315.63 914.86,1324.73 914.86,1342.95 932.54,1352.05" fill="#26d9ff" stroke="#26d9ff"/>
<polygon points="950.22,1288.31 950.22,1270.09 932.54,1260.99 914.86,1270.09 914.86,1288.31 932.54,1297.41" fill="#40bfff" stroke="#40bfff"/>
<polygon points="950.22,1233.67 950.22,1215.45 932.54,1206.35 914.86,1215.45 914.86,1233.67 932.54,1242.77" fill="#00ffff" stroke="#00ffff"/>
<polygon points="950.22,1124.39 950.22,1106.17 932.54,1097.07 914.86,1106.17 914.86,1124.39 932.54,1133.49" fill="#00ffff" stroke="#00ffff"/>
<polygon points="950.22,1069.75 950.22,1051.53 932.54,1042.43 914.86,1051.53 914.86,1069.75 932.54,1078.85" fill="#619eff" stroke="#619eff"/>
<polygon points="950.22,1015.11 950.22,996.89 932.54,987.79 914.86,996.89 914.86,1015.11 932.54,1024.21" fill="#00ffff" stroke="#00ffff"/>
<polygon points="950.22,960.47 950.22,942.25 932.54,933.15 914.86,942.25 914.86,960.47 932.54,969.57" fill="#7a85ff" stroke="#7a85ff"/>
<polygon points="950.22,905.83 950.22,887.61 932.54,878.51 914.86,887.61 914.86,905.83 932.54,914.93" fill="#d926ff" stroke="#d926ff"/>
<polygon points="950.22,851.19 950.22,832.97 932.54,823.87 914.86,832.97 914.86,851.19 932.54,860.29" fill="#8080ff" stroke="#8080ff"/>
<polygon points="950.22,796.55 950.22,778.33 932.54,769.23 914.86,778.33 914.86,796.55 932.54,805.65" fill="#bf40ff" stroke="#bf40ff"/>
<polygon points="950.22,741.91 950.22,723.69 932.54,714.59 914.86,723.69 914.86,741.91 932.54,751.01" fill="#a659ff" stroke="#a659ff"/>
<polygon points="950.22,687.27 950.22,669.05 932.54,659.95 914.86,669.05 914.86,687.27 932.54,696.37" fill="#33ccff" stroke="#33ccff"/>
<polygon points="985.59,1452.23 985.59,1434.01 967.91,1424.91 950.22,1434.01 950.22,1452.23 967.91,1461.33" fill="#00ffff" stroke="#00ffff"/>
<polygon points="985.59,1342.95 985.59,1324.73 967.91,1315.63 950.22,1324.73 950.22,1342.95 967.91,1352.05" fill="#00ffff" stroke="#00ffff"/>
<polygon points="985.59,905.83 985.59,887.61 967.91,878.51 950.22,887.61 950.22,905.83 967.91,914.93" fill="#7887ff" stroke="#7887ff"/>
<polygon points="985.59,851.19 985.59,832.97 967.91,823.87 950.22,832.97 950.22,851.19 967.91,860.29" fill="#00ffff" stroke="#00ffff"/>
<polygon points="985.59,796.55 985.59,778.33 967.91,769.23 950.22,778.33 950.22,796.55 967.91,805.65" fill="#ad52ff" stroke="#ad52ff"/>
<polygon points="985.59,741.91 985.59,723.69 967.91,714.59 950.22,723.69 950.22,741.91 967.91,751.01" fill="#9966ff" stroke="#9966ff"/>
<polygon points="1020.95,1561.51 1020.95,1543.29 1003.27,1534.19 985.59,1543.29 985.59,1561.51 1003.27,1570.61" fill="#00ffff" stroke="#00ffff"/>
<polygon points="1020.95,851.19 1020.95,832.97 1003.27,823.87 985.59,832.97 985.59,851.19 1003.27,860.29" fill="#4cb2ff" stroke="#4cb2ff"/>
<polygon points="1020.95,796.55 1020.95,778.33 1003.27,769.23 985.59,778.33 985.59,796.55 1003.27,805.65" fill="#6b94ff" stroke="#6b94ff"/>
<polygon points="1020.95,741.91 1020.95,723.69 1003.27,714.59 985.59,723.69 985.59,741.91 1003.27,751.01" fill="#8c73ff" stroke="#8c73ff"/>
<polygon points="1020.95,687.27 1020.95,669.05 1003.27,659.95 985.59,669.05 985.59,687.27 1003.27,696.37" fill="#1fe0ff" stroke="#1fe0ff"/>
<polygon points="1056.32,851.19 1056.32,832.97 1038.64,823.87 1020.95,832.97 1020.95,851.19 1038.64,860.29" fill="#00ffff" stroke="#00ffff"/>
<polygon points="1056.32,741.91 1056.32,723.69 1038.64,714.59 1020.95,723.69 1020.95,741.91 1038.64,751.01" fill="#857aff" stroke="#857aff"/>
<polygon points="1056.32,687.27 1056.32,669.05 1038.64,659.95 1020.95,669.05 1020.95,687.27 1038.64,696.37" fill="#40bfff" stroke="#40bfff"/>
<polygon points="1056.32,632.63 1056.32,614.41 1038.64,605.31 1020.95,614.41 1020.95,632.63 1038.64,641.73" fill="#00ffff" stroke="#00ffff"/>
<polygon points="1091.68,1616.15 1091.68,1597.93 1074.00,1588.83 1056.32,1597.93 1056.32,1616.15 1074.00,1625.25" fill="#00ffff" stroke="#00ffff"/>
<polygon points="1091.68,796.55 1091.68,778.33 1074.00,769.23 1056.32,778.33 1056.32,796.55 1074.00,805.65" fill="#00ffff" stroke="#00ffff"/>
<polygon points="1091.68,741.91 1091.68,723.69 1074.00,714.59 1056.32,723.69 1056.32,741.91 1074.00,751.01" fill="#8c73ff" stroke="#8c73ff"/>
<polygon points="1091.68,687.27 1091.68,669.05 1074.00,659.95 1056.32,669.05 1056.32,687.27 1074.00,696.37" fill="#26d9ff" stroke="#26d9ff"/>
<polygon points="1127.05,741.91 1127.05,723.69 1109.37,714.59 1091.68,723.69 1091.68,741.91 1109.37,751.01" fill="#26d9ff" stroke="#26d9ff"/>
<polygon points="1127.05,687.27 1127.05,669.05 1109.37,659.95 1091.68,669.05 1091.68,687.27 1109.37,696.37" fill="#40bfff" stroke="#40bfff"/>
<polygon points="1127.05,632.63 1127.05,614.41 1109.37,605.31 1091.68,614.41 1091.68,632.63 1109.37,641.73" fill="#00ffff" stroke="#00ffff"/>
<polygon points="1162.41,741.91 1162.41,723.69 1144.73,714.59 1127.05,723.69 1127.05,741.91 1144.73,751.01" fill="#00ffff" stroke="#00ffff"/>
<polygon points="1162.41,687.27 1162.41,669.05 1144.73,659.95 1127.05,669.05 1127.05,687.27 1144.73,696.37" fill="#3bc4ff" stroke="#3bc4ff"/>
<polygon points="1197.78,687.27 1197.78,669.05 1180.10,659.95 1162.41,669.05 1162.41,687.27 1180.10,696.37" fill="#26d9ff" stroke="#26d9ff"/>
<polygon points="1233.14,687.27 1233.14,669.05 1215.46,659.95 1197.78,669.05 1197.78,687.27 1215.46,696.37" fill="#00ffff" stroke="#00ffff"/>
<polygon points="1268.51,632.63 1268.51,614.41 1250.83,605.31 1233.14,614.41 1233.14,632.63 1250.83,641.73" fill="#33ccff" stroke="#33ccff"/>
<polygon points="1303.87,632.63 1303.87,614.41 1286.19,605.31 1268.51,614.41 1268.51,632.63 1286.19,641.73" fill="#26d9ff" stroke="#26d9ff"/>
<polygon points="1409.97,577.99 1409.97,559.77 1392.29,550.67 1374.60,559.77 1374.60,577.99 1392.29,587.09" fill="#00ffff" stroke="#00ffff"/>
</g>
<g clip-path="url(#cj)" stroke-width="4.17" stroke-dasharray="15.42 6.67" fill="none">
<path d="M180.33 668.00H1373.33" stroke="#808080" stroke-dashoffset="0.5"/>
<path d="M180.33 750.90H1373.33" stroke="#008000" stroke-dashoffset="0.5"/>
<path d="M180.33 911.80H1373.33" stroke="#ff0000" stroke-dashoffset="0.5"/>
<path d="M180.33 970.00H1373.33" stroke="#ffa500" stroke-dashoffset="0.5"/>
<path d="M180.33 999.80H1373.33" stroke="#87ceeb" stroke-dashoffset="0.5"/>
<path d="M180.33 1034.00H1373.33" stroke="#0000ff" stroke-dashoffset="0.5"/>
<path d="M180.33 1129.10H1373.33" stroke="#a52a2a" stroke-dashoffset="0.5"/>
<path d="M180.33 1322.90H1373.33" stroke="#ee82ee" stroke-dashoffset="0.5"/>
<path d="M180.33 1383.10H1373.33" stroke="#ffc0cb" stroke-dashoffset="0.5"/>
<path d="M343.10 1620.33V427.33" stroke="#ffc0cb"/>
<path d="M482.90 1620.33V427.33" stroke="#ee82ee"/>
<path d="M596.00 1620.33V427.33" stroke="#a52a2a"/>
<path d="M716.90 1620.33V427.33" stroke="#0000ff"/>
<path d="M750.90 1620.33V427.33" stroke="#ffa500"/>
<path d="M843.90 1620.33V427.33" stroke="#87ceeb"/>
<path d="M876.90 1620.33V427.33" stroke="#ff0000"/>
<path d="M900.90 1620.33V427.33" stroke="#808080"/>
<path d="M981.90 1620.33V427.33" stroke="#008000"/>
</g>
<g clip-path="url(#ct)" fill="#5799c7" stroke="#000" stroke-width="2.27" stroke-linejoin="miter">
<rect x="265.10" y="384.39" width="22.70" height="1.80"/>
<rect x="287.80" y="381.49" width="22.70" height="4.70"/>
<rect x="310.50" y="377.09" width="22.70" height="9.10"/>
<rect x="333.20" y="375.99" width="22.70" height="10.20"/>
<rect x="355.90" y="373.79" width="22.70" height="12.40"/>
<rect x="378.60" y="382.89" width="22.70" height="3.30"/>
<rect x="401.30" y="377.99" width="22.70" height="8.20"/>
<rect x="424.00" y="384.69" width="22.70" height="1.50"/>
<rect x="446.70" y="383.79" width="22.70" height="2.40"/>
<rect x="469.40" y="382.89" width="22.70" height="3.30"/>
<rect x="492.10" y="379.99" width="22.70" height="6.20"/>
<rect x="514.80" y="376.19" width="22.70" height="10.00"/>
<rect x="537.50" y="302.89" width="22.70" height="83.30"/>
<rect x="560.20" y="265.09" width="22.70" height="121.10"/>
<rect x="582.90" y="337.99" width="22.70" height="48.20"/>
<rect x="605.60" y="342.19" width="22.70" height="44.00"/>
<rect x="628.30" y="349.09" width="22.70" height="37.10"/>
<rect x="651.00" y="359.99" width="22.70" height="26.20"/>
<rect x="673.70" y="360.89" width="22.70" height="25.30"/>
<rect x="696.40" y="279.09" width="22.70" height="107.10"/>
<rect x="719.10" y="340.39" width="22.70" height="45.80"/>
<rect x="741.80" y="352.19" width="22.70" height="34.00"/>
<rect x="764.50" y="329.99" width="22.70" height="56.20"/>
<rect x="787.20" y="355.99" width="22.70" height="30.20"/>
<rect x="809.90" y="246.19" width="22.70" height="140.00"/>
<rect x="832.60" y="309.99" width="22.70" height="76.20"/>
<rect x="855.30" y="316.89" width="22.70" height="69.30"/>
<rect x="878.00" y="279.99" width="22.70" height="106.20"/>
<rect x="900.70" y="190.19" width="22.70" height="196.00"/>
<rect x="923.40" y="298.19" width="22.70" height="88.00"/>
<rect x="946.10" y="333.79" width="22.70" height="52.40"/>
<rect x="968.80" y="367.19" width="22.70" height="19.00"/>
<rect x="991.50" y="368.99" width="22.70" height="17.20"/>
<rect x="1014.20" y="377.99" width="22.70" height="8.20"/>
<rect x="1036.90" y="380.59" width="22.70" height="5.60"/>
<rect x="1059.60" y="379.29" width="22.70" height="6.90"/>
<rect x="1082.30" y="381.29" width="22.70" height="4.90"/>
<rect x="1105.00" y="385.39" width="22.70" height="0.80"/>
<rect x="1127.70" y="385.39" width="22.70" height="0.80"/>
<rect x="1150.40" y="385.39" width="22.70" height="0.80"/>
<rect x="1173.10" y="385.39" width="22.70" height="0.80"/>
<rect x="1195.80" y="385.39" width="22.70" height="0.80"/>
<rect x="1218.50" y="385.39" width="22.70" height="0.80"/>
<rect x="1241.20" y="385.39" width="22.70" height="0.80"/>
<rect x="1263.90" y="385.39" width="22.70" height="0.80"/>
</g>
<g clip-path="url(#cr)" fill="#5799c7" stroke="#000" stroke-width="1.33" stroke-linejoin="miter">
<rect x="1414.47" y="652.23" width="1.50" height="13.33"/>
<rect x="1414.47" y="665.57" width="1.50" height="13.33"/>
<rect x="1414.47" y="678.90" width="3.70" height="13.33"/>
<rect x="1414.47" y="692.23" width="9.00" height="13.33"/>
<rect x="1414.47" y="705.57" width="18.00" height="13.33"/>
<rect x="1414.47" y="718.90" width="17.70" height="13.33"/>
<rect x="1414.47" y="732.23" width="33.70" height="13.33"/>
<rect x="1414.47" y="745.56" width="34.80" height="13.33"/>
<rect x="1414.47" y="758.90" width="34.60" height="13.33"/>
<rect x="1414.47" y="772.23" width="44.00" height="13.33"/>
<rect x="1414.47" y="785.56" width="39.70" height="13.33"/>
<rect x="1414.47" y="798.90" width="20.80" height="13.33"/>
<rect x="1414.47" y="812.23" width="8.50" height="13.33"/>
<rect x="1414.47" y="825.56" width="11.70" height="13.33"/>
<rect x="1414.47" y="838.90" width="23.80" height="13.33"/>
<rect x="1414.47" y="852.23" width="30.90" height="13.33"/>
<rect x="1414.47" y="865.56" width="13.60" height="13.33"/>
<rect x="1414.47" y="878.89" width="36.90" height="13.33"/>
<rect x="1414.47" y="892.23" width="82.90" height="13.33"/>
<rect x="1414.47" y="905.56" width="195.00" height="13.33"/>
<rect x="1414.47" y="918.89" width="23.70" height="13.33"/>
<rect x="1414.47" y="932.23" width="60.90" height="13.33"/>
<rect x="1414.47" y="945.56" width="77.80" height="13.33"/>
<rect x="1414.47" y="958.89" width="94.90" height="13.33"/>
<rect x="1414.47" y="972.23" width="66.60" height="13.33"/>
<rect x="1414.47" y="985.56" width="102.80" height="13.33"/>
<rect x="1414.47" y="998.89" width="69.60" height="13.33"/>
<rect x="1414.47" y="1012.22" width="138.90" height="13.33"/>
<rect x="1414.47" y="1025.56" width="60.50" height="13.33"/>
<rect x="1414.47" y="1038.89" width="82.80" height="13.33"/>
<rect x="1414.47" y="1052.22" width="121.70" height="13.33"/>
<rect x="1414.47" y="1065.56" width="196.00" height="13.33"/>
<rect x="1414.47" y="1078.89" width="82.80" height="13.33"/>
<rect x="1414.47" y="1092.22" width="51.60" height="13.33"/>
<rect x="1414.47" y="1105.56" width="49.70" height="13.33"/>
<rect x="1414.47" y="1118.89" width="46.60" height="13.33"/>
<rect x="1414.47" y="1132.22" width="15.70" height="13.33"/>
<rect x="1414.47" y="1145.56" width="16.60" height="13.33"/>
<rect x="1414.47" y="1158.89" width="7.60" height="13.33"/>
<rect x="1414.47" y="1172.22" width="9.70" height="13.33"/>
<rect x="1414.47" y="1185.55" width="5.60" height="13.33"/>
<rect x="1414.47" y="1198.89" width="8.90" height="13.33"/>
<rect x="1414.47" y="1212.22" width="7.60" height="13.33"/>
<rect x="1414.47" y="1225.55" width="6.60" height="13.33"/>
<rect x="1414.47" y="1238.89" width="7.60" height="13.33"/>
<rect x="1414.47" y="1252.22" width="5.70" height="13.33"/>
<rect x="1414.47" y="1265.55" width="4.60" height="13.33"/>
<rect x="1414.47" y="1278.88" width="4.60" height="13.33"/>
<rect x="1414.47" y="1292.22" width="6.60" height="13.33"/>
<rect x="1414.47" y="1305.55" width="16.90" height="13.33"/>
<rect x="1414.47" y="1318.88" width="3.70" height="13.33"/>
<rect x="1414.47" y="1332.22" width="3.70" height="13.33"/>
<rect x="1414.47" y="1345.55" width="3.70" height="13.33"/>
<rect x="1414.47" y="1358.88" width="18.00" height="13.33"/>
<rect x="1414.47" y="1372.22" width="14.90" height="13.33"/>
<rect x="1414.47" y="1385.55" width="16.00" height="13.33"/>
<rect x="1414.47" y="1398.88" width="5.70" height="13.33"/>
<rect x="1414.47" y="1412.22" width="2.60" height="13.33"/>
<rect x="1414.47" y="1425.55" width="1.70" height="13.33"/>
<rect x="1414.47" y="1438.88" width="0.80" height="13.33"/>
<rect x="1414.47" y="1452.21" width="0.80" height="13.33"/>
<rect x="1414.47" y="1465.55" width="0.80" height="13.33"/>
<rect x="1414.47" y="1478.88" width="0.80" height="13.33"/>
<rect x="1414.47" y="1492.21" width="0.80" height="13.33"/>
<rect x="1414.47" y="1505.55" width="0.80" height="13.33"/>
<rect x="1414.47" y="1518.88" width="0.80" height="13.33"/>
<rect x="1414.47" y="1532.21" width="0.80" height="13.33"/>
<rect x="1414.47" y="1545.55" width="0.80" height="13.33"/>
<rect x="1414.47" y="1558.88" width="0.80" height="13.33"/>
</g>
<g stroke="#000" stroke-width="3.333" fill="none" stroke-linecap="square">
<path d="M180.33 427.33V1620.33H1373.33"/>
<path d="M180.33 180.50V386.19H1373.33"/>
<path d="M1414.47 427.33V1620.33H1620.16"/>
</g>
<g stroke="#000" stroke-width="3.333" fill="none">
<path d="M254.89 1620.33v14.58"/>
<path d="M254.89 386.19v14.58"/>
<path d="M404.02 1620.33v14.58"/>
<path d="M404.02 386.19v14.58"/>
<path d="M553.14 1620.33v14.58"/>
<path d="M553.14 386.19v14.58"/>
<path d="M702.27 1620.33v14.58"/>
<path d="M702.27 386.19v14.58"/>
<path d="M851.39 1620.33v14.58"/>
<path d="M851.39 386.19v14.58"/>
<path d="M1000.52 1620.33v14.58"/>
<path d="M1000.52 386.19v14.58"/>
<path d="M1149.64 1620.33v14.58"/>
<path d="M1149.64 386.19v14.58"/>
<path d="M1298.77 1620.33v14.58"/>
<path d="M1298.77 386.19v14.58"/>
<path d="M180.33 1535.12h-14.58"/>
<path d="M1414.47 1535.12h-14.58"/>
<path d="M180.33 1364.68h-14.58"/>
<path d="M1414.47 1364.68h-14.58"/>
<path d="M180.33 1194.25h-14.58"/>
<path d="M1414.47 1194.25h-14.58"/>
<path d="M180.33 1023.82h-14.58"/>
<path d="M1414.47 1023.82h-14.58"/>
<path d="M180.33 853.39h-14.58"/>
<path d="M1414.47 853.39h-14.58"/>
<path d="M180.33 682.96h-14.58"/>
<path d="M1414.47 682.96h-14.58"/>
<path d="M180.33 512.54h-14.58"/>
<path d="M1414.47 512.54h-14.58"/>
<path d="M180.33 386.19h-14.58"/>
<path d="M1414.47 1620.33v14.58"/>
<path d="M180.33 268.29h-14.58"/>
<path d="M1585.47 1620.33v14.58"/>
</g>
<g font-family="'Liberation Sans', 'Noto Sans CJK JP', sans-serif" font-size="41.67" fill="#000" stroke="none">
<text x="254.9" y="1681.0" text-anchor="middle">120</text>
<text x="404.0" y="1681.0" text-anchor="middle">125</text>
<text x="553.1" y="1681.0" text-anchor="middle">130</text>
<text x="702.3" y="1681.0" text-anchor="middle">135</text>
<text x="851.4" y="1681.0" text-anchor="middle">140</text>
<text x="1000.5" y="1681.0" text-anchor="middle">145</text>
<text x="1149.6" y="1681.0" text-anchor="middle">150</text>
<text x="1298.8" y="1681.0" text-anchor="middle">155</text>
<text x="150.5" y="1550.1" text-anchor="end">20</text>
<text x="150.5" y="1379.7" text-anchor="end">25</text>
<text x="150.5" y="1209.3" text-anchor="end">30</text>
<text x="150.5" y="1038.8" text-anchor="end">35</text>
<text x="150.5" y="868.4" text-anchor="end">40</text>
<text x="150.5" y="698.0" text-anchor="end">45</text>
<text x="150.5" y="527.5" text-anchor="end">50</text>
<text x="150.5" y="401.2" text-anchor="end">0</text>
<text x="1414.5" y="1681.0" text-anchor="middle">0</text>
<text x="150.5" y="283.3" text-anchor="end">1000</text>
<text x="1585.5" y="1681.0" text-anchor="middle">1000</text>
<text x="776.8" y="1738.0" text-anchor="middle">経度</text>
<text transform="translate(75.0 1025.8) rotate(-90)" text-anchor="middle">緯度</text>
<text x="1529.8" y="287.5" text-anchor="middle" font-size="62.5">8月</text>
</g>
</svg></body></html>
